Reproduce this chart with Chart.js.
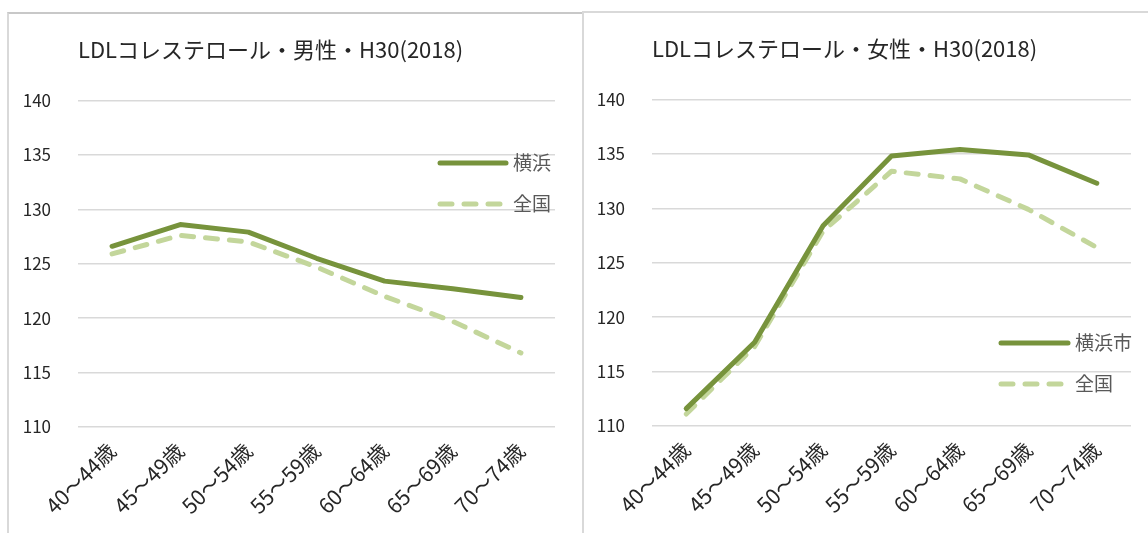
<!DOCTYPE html>
<html lang="ja">
<head>
<meta charset="utf-8">
<script src="https://cdn.jsdelivr.net/npm/chart.js@4/dist/chart.umd.min.js"></script>
<style>
  body { margin: 0; background: #fff; overflow: hidden; }
  .panel { position: absolute; box-sizing: border-box; border: 2px solid #d9d9d9; border-bottom: none; background: #fff; }
  #boxMale { left: 7px; top: 12px; width: 578px; height: 540px; border-top-color: #c8c8c8; }
  #boxFemale { left: 582px; top: 11px; width: 600px; height: 540px; }
  canvas { position: absolute; left: 0; top: 0; }
</style>
</head>
<body>
<div class="panel" id="boxMale"><canvas id="chartMale" width="574" height="519"></canvas></div>
<div class="panel" id="boxFemale"><canvas id="chartFemale" width="564" height="520"></canvas></div>
<script>
const ageGroups = ['40～44歳', '45～49歳', '50～54歳', '55～59歳', '60～64歳', '65～69歳', '70～74歳'];
const yTicks = [110, 115, 120, 125, 130, 135, 140];

// 男性
const maleYokohama = [126.6, 128.6, 127.9, 125.5, 123.4, 122.7, 121.9];
const maleNational = [125.9, 127.6, 127.0, 124.7, 122.0, 119.7, 116.8];
// 女性
const femaleYokohama = [111.6, 117.7, 128.4, 134.8, 135.4, 134.9, 132.3];
const femaleNational = [111.1, 117.3, 127.9, 133.4, 132.7, 129.9, 126.4];

const FONT = "'Noto Sans CJK JP', 'Noto Sans', sans-serif";
const GREEN = '#77933c';
const LIGHT = '#c3d69b';

// 凡例をプロット内の右側に描く
const insideLegend = {
  id: 'insideLegend',
  afterDraw(chart, args, opts) {
    const ctx = chart.ctx;
    ctx.save();
    chart.data.datasets.forEach((ds, i) => {
      const y = opts.y[i];
      ctx.beginPath();
      ctx.lineWidth = ds.borderWidth;
      ctx.strokeStyle = ds.borderColor;
      ctx.lineCap = 'round';
      ctx.setLineDash(ds.borderDash || []);
      ctx.moveTo(opts.x0, y);
      ctx.lineTo(opts.x1, y);
      ctx.stroke();
      ctx.setLineDash([]);
      ctx.fillStyle = '#595959';
      ctx.font = '19px ' + FONT;
      ctx.textBaseline = 'middle';
      ctx.fillText(ds.label, opts.textX, y);
    });
    ctx.restore();
  }
};

function makeChart(id, title, names, cityVals, natVals, box, legendPos) {
  return new Chart(document.getElementById(id), {
    type: 'line',
    data: {
      labels: ageGroups,
      datasets: [
        {
          label: names[0],
          data: cityVals,
          borderColor: GREEN,
          borderWidth: 5,
          borderCapStyle: 'round',
          borderJoinStyle: 'round',
          pointRadius: 0,
          tension: 0
        },
        {
          label: names[1],
          data: natVals,
          borderColor: LIGHT,
          borderWidth: 5,
          borderDash: [12, 12],
          borderCapStyle: 'round',
          borderJoinStyle: 'round',
          pointRadius: 0,
          tension: 0
        }
      ]
    },
    options: {
      responsive: false,
      animation: false,
      layout: { padding: { left: 0, right: box.right, top: 0, bottom: 0 } },
      plugins: {
        legend: { display: false },
        tooltip: { enabled: false },
        title: {
          display: true,
          text: title,
          align: 'start',
          fullSize: false,
          color: '#262626',
          font: { family: FONT, size: 22, weight: 'normal', lineHeight: 1.2 },
          padding: { top: 22, bottom: 38 }
        },
        insideLegend: legendPos
      },
      scales: {
        x: {
          offset: true,
          grid: { display: false },
          border: { display: false },
          ticks: {
            color: '#262626',
            font: { family: FONT, size: 21 },
            maxRotation: 45,
            minRotation: 45,
            padding: 3
          },
          afterFit(scale) { scale.height = box.bottom; }
        },
        y: {
          min: 110,
          max: 140,
          afterBuildTicks(scale) { scale.ticks = yTicks.map(v => ({ value: v })); },
          grid: { color: '#d9d9d9', lineWidth: 1.5, drawTicks: false },
          border: { display: false },
          ticks: {
            color: '#262626',
            font: { family: FONT, size: 17 },
            padding: 27
          },
          afterFit(scale) { scale.width = box.left; }
        }
      }
    },
    plugins: [insideLegend]
  });
}

makeChart('chartMale', 'LDLコレステロール・男性・H30(2018)', ['横浜', '全国'],
  maleYokohama, maleNational,
  { left: 69, right: 28, bottom: 106 },
  { x0: 431, x1: 497, textX: 504, y: [149, 190] });

makeChart('chartFemale', 'LDLコレステロール・女性・H30(2018)', ['横浜市', '全国'],
  femaleYokohama, femaleNational,
  { left: 68, right: 17, bottom: 107 },
  { x0: 417, x1: 484, textX: 491, y: [330, 371] });
</script>
</body>
</html>
